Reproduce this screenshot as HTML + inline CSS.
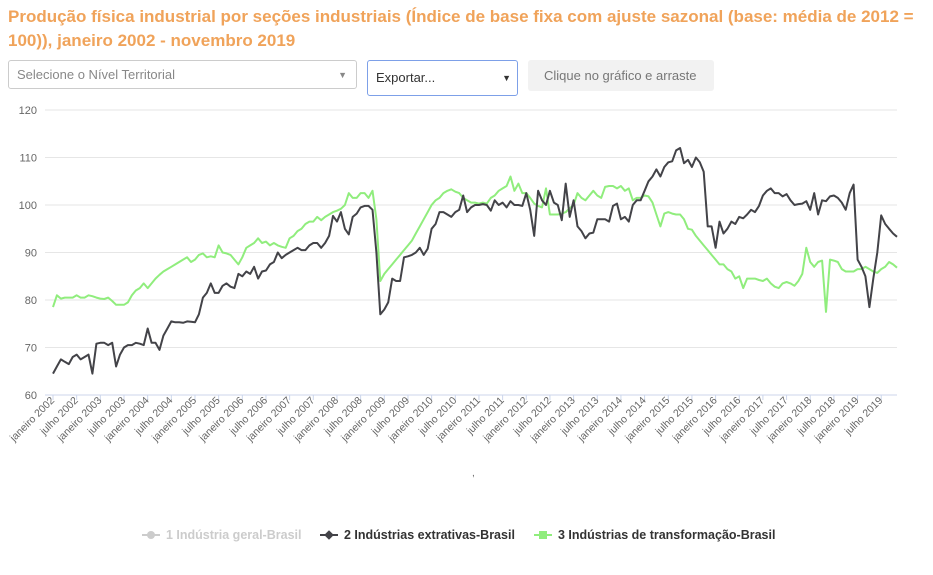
<!DOCTYPE html>
<html><head><meta charset="utf-8">
<style>
body{margin:0;width:933px;height:575px;background:#fff;font-family:"Liberation Sans",sans-serif;overflow:hidden;position:relative}
#title{position:absolute;left:8px;top:5px;width:906px;color:#f0a35a;font-weight:bold;font-size:17px;line-height:24px}
.sel{position:absolute;box-sizing:border-box;font-size:13px;color:#888;border:1px solid #ccc;border-radius:3px;padding:0 8px;line-height:28px}
.mk{display:inline-block;position:relative;vertical-align:middle;margin-right:6px;width:18px;height:2px;top:-1px}
.mk i{position:absolute;left:5px;top:-3px;width:8px;height:8px}
</style></head><body>
<div id="title">Produção física industrial por seções industriais (Índice de base fixa com ajuste sazonal (base: média de 2012 = 100)), janeiro 2002 - novembro 2019</div>
<div class="sel" style="left:8px;top:60px;width:349px;height:29px">Selecione o Nível Territorial<span style="position:absolute;right:9px;font-size:9px;color:#888">▼</span></div>
<div class="sel" style="left:367px;top:60px;width:151px;height:36px;border:1px solid #7da0e8;color:#333;line-height:34px">Exportar...<span style="position:absolute;right:6px;font-size:9px;color:#333">▼</span></div>
<div class="sel" style="left:528px;top:60px;width:186px;height:31px;border:none;background:#f2f2f2;color:#777;padding-left:16px;line-height:31px">Clique no gráfico e arraste</div>
<svg id="chart" width="933" height="575" style="position:absolute;left:0;top:0"></svg>
<script>
const yTicks=[60,70,80,90,100,110,120];
const extr=[64.5,66,67.5,67,66.5,68,68.5,67.5,68,68.5,64.5,70.8,
71,71,70.5,71,66,68.5,70,70.5,70.5,71,70.8,70.5,
74,71,71,69.5,72.5,74,75.5,75.3,75.3,75.2,75.5,75.4,
75.3,77,80.5,81.5,83.5,81.5,81.5,83,83.5,82.8,82.5,85.5,
85,86,85.5,87,84.5,86,86.2,87.5,88,90,88.8,89.5,
90,90.5,91,90.5,90.5,91.5,92,92,91,92,93.5,97.7,
96.5,98.5,95,93.8,97.5,98.2,99.5,99.8,99.8,99,90,77,
78,79.5,84.5,84,84,89,89.2,89.5,90,91,89.5,90.8,
95,96,98.5,98.5,98,97.5,98.5,99,102,98.5,99.5,100,
100,100.2,100,98.8,101,100,100.5,99.5,100.8,100,100,99.8,
102.5,99,93.5,103,101,100,103,100.5,100,96.8,104.5,97.5,
101,95.5,94.5,93,94,94.2,97,97,97,96.5,99.8,100.3,
97,97.5,96.5,100,101,101,103,105,106,107.5,106,108,
109,109.2,111.5,112,108.8,109.5,108,110,109,107,95.5,95.5,
91,96.5,94,95,96.5,96,97.5,97.2,98,99,98.5,99.8,
102,103,103.5,102.5,102.5,101.8,102.3,101,100,100.2,100.3,100.8,
99,102.5,98,101,100.8,101.8,102,101.5,100.5,99,102.5,104.3,
88.5,87,85,78.5,84.5,90,97.8,96,95,94,93.3];
const transf=[78.5,81,80.3,80.5,80.5,80.5,81,80.5,80.5,81,80.8,80.5,
80.3,80.2,80.5,79.8,79,79,79,79.5,81,82,82.5,83.5,
82.5,83.5,84.5,85.3,86,86.5,87,87.5,88,88.5,89,88,
88.5,89.5,89.8,89,89.2,89,91.5,90,89.8,89.5,88.5,87.5,
89,91,91.5,92,93,92,92.3,91.5,92,91.5,91.2,91,
93,93.5,94.5,95,96,96.5,96.5,97.5,96.8,97.5,98,98.5,
98.8,99.2,100,102.5,101.5,101.5,102.5,102.5,101.5,103,97,84,
85.5,86.5,87.5,88.5,89.5,90.5,91.5,92.5,94,95.5,97,98.5,
100,101,101.5,102.5,103,103.3,102.8,102.5,101.5,101,100.5,100.5,
100.3,100.5,100.3,101.5,102,103,103.5,104,106,103,104.5,102.5,
102.5,101.5,100.3,99.8,99.5,103.5,98,98,98,98.2,98.5,99.3,
100,102.5,101.5,101,102,103,102,101.5,103.8,104,104,103.5,
104,103,103.5,101,101.5,101.5,102,101.8,100.5,98,95.5,98.2,
98.5,98.2,98,98,97,95,94.8,93.5,92.5,91.5,90.5,89.5,
88.5,87.5,87.5,86.5,86,84.5,85,82.5,84.5,84.5,84.5,84.2,
84,84.5,83.5,82.8,82.5,83.5,83.8,83.5,83,84,85.5,91,
88,87,88,88.3,77.5,88.5,88.3,88,86.5,86,86,86,
86.5,86.5,87,86.5,86,85.7,86.5,87,88,87.5,86.8];
const startYear=2002;
const svg=document.getElementById('chart');const NS='http://www.w3.org/2000/svg';
const X0=53,X1=897,Y0=395,Y1=110,N=215;
const xs=i=>X0+(X1-X0)*i/(N-1);
const ys=v=>Y0-(v-60)*(Y0-Y1)/60;
function mk(t,a){const e=document.createElementNS(NS,t);for(const k in a)e.setAttribute(k,a[k]);svg.appendChild(e);return e;}
yTicks.forEach(t=>{
 const l=mk('line',{x1:45,x2:897,y1:ys(t),y2:ys(t),stroke:t===60?'#ccd6eb':'#e6e6e6','stroke-width':1});
 
 
 const tx=mk('text',{x:37,y:ys(t)+4,'text-anchor':'end','font-size':11,fill:'#666','font-family':'Liberation Sans'});
 tx.textContent=t;
 
 
});
for(let i=0;i<N;i+=6){
 const yr=startYear+Math.floor(i/12);const lab=(i%12===0?'janeiro ':'julho ')+yr;
 const x=xs(i);
 mk('line',{x1:x,x2:x,y1:395,y2:400,stroke:'#ccd6eb'});
 const tx=mk('text',{x:x+2,y:401,'text-anchor':'end','font-size':10.5,fill:'#666','font-family':'Liberation Sans',transform:`rotate(-45 ${x+2} 401)`});
 tx.textContent=lab;
 
 
}
function line(d,c,name){
 const p=mk('path',{d:d.map((v,i)=>(i?'L':'M')+xs(i).toFixed(1)+' '+ys(v).toFixed(1)).join(''),fill:'none',stroke:c,'stroke-width':2,'stroke-linejoin':'round'});
 
 
}
line(transf,'#90ed7d','series-transformacao');
line(extr,'#434348','series-extrativas');
</script>
<div style="position:absolute;left:472px;top:468px;font-size:10px;color:#666">,</div>
<div style="position:absolute;top:528px;left:0;width:933px;font-size:12.5px;font-weight:bold;font-family:'Liberation Sans',sans-serif">
 <span style="position:absolute;left:142px;color:#ccc"><span class="mk" style="background:#ccc"><i style="background:#ccc;border-radius:50%"></i></span>1 Indústria geral-Brasil</span>
 <span style="position:absolute;left:320px;color:#333"><span class="mk" style="background:#434348"><i style="background:#434348;transform:rotate(45deg) scale(0.85)"></i></span>2 Indústrias extrativas-Brasil</span>
 <span style="position:absolute;left:534px;color:#333"><span class="mk" style="background:#90ed7d"><i style="background:#90ed7d"></i></span>3 Indústrias de transformação-Brasil</span>
</div>
</body></html>
